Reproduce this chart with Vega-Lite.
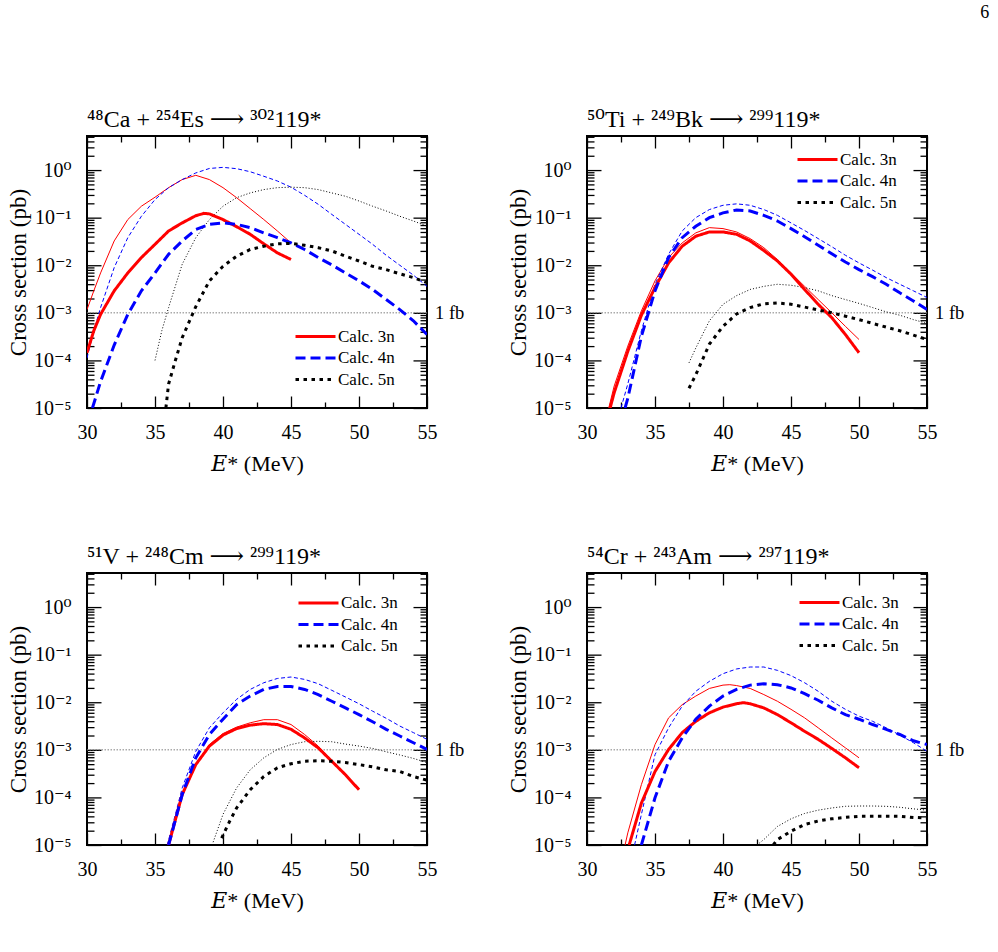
{
  "$schema": "https://vega.github.io/schema/vega-lite/v6.json",
  "padding": {"left": 6, "top": 4, "right": 6, "bottom": 4},
  "title": {"text": "6", "anchor": "end", "frame": "bounds", "fontSize": 18, "font": "Liberation Serif", "fontWeight": "normal", "color": "#000", "offset": 85, "dx": 24},
  "data": {"values": [
    {"r":"Ca","ch":"3n","set":"A","E":30,"xs":1.45e-4},{"r":"Ca","ch":"3n","set":"A","E":30.5,"xs":4.2e-4},{"r":"Ca","ch":"3n","set":"A","E":31,"xs":9.3e-4},{"r":"Ca","ch":"3n","set":"A","E":32,"xs":2.9e-3},{"r":"Ca","ch":"3n","set":"A","E":33,"xs":6.9e-3},{"r":"Ca","ch":"3n","set":"A","E":34,"xs":0.0145},{"r":"Ca","ch":"3n","set":"A","E":35,"xs":0.0275},{"r":"Ca","ch":"3n","set":"A","E":36,"xs":0.0525},{"r":"Ca","ch":"3n","set":"A","E":37,"xs":0.0776},{"r":"Ca","ch":"3n","set":"A","E":38,"xs":0.11},{"r":"Ca","ch":"3n","set":"A","E":38.6,"xs":0.123},{"r":"Ca","ch":"3n","set":"A","E":39,"xs":0.12},{"r":"Ca","ch":"3n","set":"A","E":40,"xs":0.0912},{"r":"Ca","ch":"3n","set":"A","E":41,"xs":0.0646},{"r":"Ca","ch":"3n","set":"A","E":42,"xs":0.0447},{"r":"Ca","ch":"3n","set":"A","E":43,"xs":0.0282},{"r":"Ca","ch":"3n","set":"A","E":44,"xs":0.0182},{"r":"Ca","ch":"3n","set":"A","E":45,"xs":0.0132},
    {"r":"Ca","ch":"3n","set":"B","E":30,"xs":1.17e-3},{"r":"Ca","ch":"3n","set":"B","E":30.5,"xs":2.9e-3},{"r":"Ca","ch":"3n","set":"B","E":31,"xs":6.9e-3},{"r":"Ca","ch":"3n","set":"B","E":32,"xs":0.0324},{"r":"Ca","ch":"3n","set":"B","E":33,"xs":0.0912},{"r":"Ca","ch":"3n","set":"B","E":34,"xs":0.174},{"r":"Ca","ch":"3n","set":"B","E":35,"xs":0.269},{"r":"Ca","ch":"3n","set":"B","E":36,"xs":0.427},{"r":"Ca","ch":"3n","set":"B","E":37,"xs":0.631},{"r":"Ca","ch":"3n","set":"B","E":38,"xs":0.776},{"r":"Ca","ch":"3n","set":"B","E":39,"xs":0.631},{"r":"Ca","ch":"3n","set":"B","E":40,"xs":0.427},{"r":"Ca","ch":"3n","set":"B","E":41,"xs":0.263},{"r":"Ca","ch":"3n","set":"B","E":42,"xs":0.155},{"r":"Ca","ch":"3n","set":"B","E":43,"xs":0.0912},{"r":"Ca","ch":"3n","set":"B","E":44,"xs":0.0525},{"r":"Ca","ch":"3n","set":"B","E":45,"xs":0.0295},
    {"r":"Ca","ch":"4n","set":"A","E":30.4,"xs":1e-5},{"r":"Ca","ch":"4n","set":"A","E":31,"xs":3.6e-5},{"r":"Ca","ch":"4n","set":"A","E":32,"xs":2.1e-4},{"r":"Ca","ch":"4n","set":"A","E":33,"xs":9.3e-4},{"r":"Ca","ch":"4n","set":"A","E":34,"xs":2.9e-3},{"r":"Ca","ch":"4n","set":"A","E":35,"xs":6.9e-3},{"r":"Ca","ch":"4n","set":"A","E":36,"xs":0.017},{"r":"Ca","ch":"4n","set":"A","E":37,"xs":0.0324},{"r":"Ca","ch":"4n","set":"A","E":38,"xs":0.0562},{"r":"Ca","ch":"4n","set":"A","E":39,"xs":0.0724},{"r":"Ca","ch":"4n","set":"A","E":40,"xs":0.0776},{"r":"Ca","ch":"4n","set":"A","E":41,"xs":0.0724},{"r":"Ca","ch":"4n","set":"A","E":42,"xs":0.0617},{"r":"Ca","ch":"4n","set":"A","E":43,"xs":0.0479},{"r":"Ca","ch":"4n","set":"A","E":44,"xs":0.038},{"r":"Ca","ch":"4n","set":"A","E":45,"xs":0.0295},{"r":"Ca","ch":"4n","set":"A","E":46,"xs":0.0214},{"r":"Ca","ch":"4n","set":"A","E":47,"xs":0.0145},{"r":"Ca","ch":"4n","set":"A","E":48,"xs":0.0102},{"r":"Ca","ch":"4n","set":"A","E":49,"xs":6.9e-3},{"r":"Ca","ch":"4n","set":"A","E":50,"xs":4.7e-3},{"r":"Ca","ch":"4n","set":"A","E":51,"xs":3.1e-3},{"r":"Ca","ch":"4n","set":"A","E":52,"xs":1.9e-3},{"r":"Ca","ch":"4n","set":"A","E":53,"xs":1.17e-3},{"r":"Ca","ch":"4n","set":"A","E":54,"xs":6.8e-4},{"r":"Ca","ch":"4n","set":"A","E":55,"xs":3.5e-4},
    {"r":"Ca","ch":"4n","set":"B","E":30,"xs":1.12e-4},{"r":"Ca","ch":"4n","set":"B","E":30.5,"xs":4.2e-4},{"r":"Ca","ch":"4n","set":"B","E":31,"xs":1.29e-3},{"r":"Ca","ch":"4n","set":"B","E":32,"xs":8.9e-3},{"r":"Ca","ch":"4n","set":"B","E":33,"xs":0.038},{"r":"Ca","ch":"4n","set":"B","E":34,"xs":0.107},{"r":"Ca","ch":"4n","set":"B","E":35,"xs":0.24},{"r":"Ca","ch":"4n","set":"B","E":36,"xs":0.427},{"r":"Ca","ch":"4n","set":"B","E":37,"xs":0.631},{"r":"Ca","ch":"4n","set":"B","E":38,"xs":0.871},{"r":"Ca","ch":"4n","set":"B","E":39,"xs":1.08},{"r":"Ca","ch":"4n","set":"B","E":40,"xs":1.14},{"r":"Ca","ch":"4n","set":"B","E":41,"xs":1.07},{"r":"Ca","ch":"4n","set":"B","E":42,"xs":0.923},{"r":"Ca","ch":"4n","set":"B","E":43,"xs":0.741},{"r":"Ca","ch":"4n","set":"B","E":44,"xs":0.589},{"r":"Ca","ch":"4n","set":"B","E":45,"xs":0.437},{"r":"Ca","ch":"4n","set":"B","E":46,"xs":0.295},{"r":"Ca","ch":"4n","set":"B","E":47,"xs":0.191},{"r":"Ca","ch":"4n","set":"B","E":48,"xs":0.117},{"r":"Ca","ch":"4n","set":"B","E":49,"xs":0.0724},{"r":"Ca","ch":"4n","set":"B","E":50,"xs":0.0447},{"r":"Ca","ch":"4n","set":"B","E":51,"xs":0.0275},{"r":"Ca","ch":"4n","set":"B","E":52,"xs":0.0162},{"r":"Ca","ch":"4n","set":"B","E":53,"xs":0.01},{"r":"Ca","ch":"4n","set":"B","E":54,"xs":6.2e-3},{"r":"Ca","ch":"4n","set":"B","E":55,"xs":3.6e-3},
    {"r":"Ca","ch":"5n","set":"A","E":35.8,"xs":1e-5},{"r":"Ca","ch":"5n","set":"A","E":36,"xs":3.2e-5},{"r":"Ca","ch":"5n","set":"A","E":36.5,"xs":1e-4},{"r":"Ca","ch":"5n","set":"A","E":37,"xs":3e-4},{"r":"Ca","ch":"5n","set":"A","E":38,"xs":1.35e-3},{"r":"Ca","ch":"5n","set":"A","E":39,"xs":4.7e-3},{"r":"Ca","ch":"5n","set":"A","E":40,"xs":9.5e-3},{"r":"Ca","ch":"5n","set":"A","E":41,"xs":0.0155},{"r":"Ca","ch":"5n","set":"A","E":42,"xs":0.0214},{"r":"Ca","ch":"5n","set":"A","E":43,"xs":0.0251},{"r":"Ca","ch":"5n","set":"A","E":44,"xs":0.0282},{"r":"Ca","ch":"5n","set":"A","E":45,"xs":0.0288},{"r":"Ca","ch":"5n","set":"A","E":46,"xs":0.0263},{"r":"Ca","ch":"5n","set":"A","E":47,"xs":0.0234},{"r":"Ca","ch":"5n","set":"A","E":48,"xs":0.02},{"r":"Ca","ch":"5n","set":"A","E":49,"xs":0.0155},{"r":"Ca","ch":"5n","set":"A","E":50,"xs":0.0123},{"r":"Ca","ch":"5n","set":"A","E":51,"xs":9.5e-3},{"r":"Ca","ch":"5n","set":"A","E":52,"xs":8.1e-3},{"r":"Ca","ch":"5n","set":"A","E":53,"xs":6.6e-3},{"r":"Ca","ch":"5n","set":"A","E":54,"xs":5.5e-3},{"r":"Ca","ch":"5n","set":"A","E":55,"xs":4.3e-3},
    {"r":"Ca","ch":"5n","set":"B","E":35,"xs":1e-4},{"r":"Ca","ch":"5n","set":"B","E":35.5,"xs":4.2e-4},{"r":"Ca","ch":"5n","set":"B","E":36,"xs":1.29e-3},{"r":"Ca","ch":"5n","set":"B","E":37,"xs":0.0105},{"r":"Ca","ch":"5n","set":"B","E":38,"xs":0.038},{"r":"Ca","ch":"5n","set":"B","E":39,"xs":0.0912},{"r":"Ca","ch":"5n","set":"B","E":40,"xs":0.174},{"r":"Ca","ch":"5n","set":"B","E":41,"xs":0.263},{"r":"Ca","ch":"5n","set":"B","E":42,"xs":0.331},{"r":"Ca","ch":"5n","set":"B","E":43,"xs":0.389},{"r":"Ca","ch":"5n","set":"B","E":44,"xs":0.427},{"r":"Ca","ch":"5n","set":"B","E":45,"xs":0.437},{"r":"Ca","ch":"5n","set":"B","E":46,"xs":0.427},{"r":"Ca","ch":"5n","set":"B","E":47,"xs":0.389},{"r":"Ca","ch":"5n","set":"B","E":48,"xs":0.331},{"r":"Ca","ch":"5n","set":"B","E":49,"xs":0.282},{"r":"Ca","ch":"5n","set":"B","E":50,"xs":0.224},{"r":"Ca","ch":"5n","set":"B","E":51,"xs":0.174},{"r":"Ca","ch":"5n","set":"B","E":52,"xs":0.138},{"r":"Ca","ch":"5n","set":"B","E":53,"xs":0.107},{"r":"Ca","ch":"5n","set":"B","E":54,"xs":0.0851},{"r":"Ca","ch":"5n","set":"B","E":55,"xs":0.0661},

    {"r":"Ti","ch":"3n","set":"A","E":31.7,"xs":1e-5},{"r":"Ti","ch":"3n","set":"A","E":32,"xs":2.1e-5},{"r":"Ti","ch":"3n","set":"A","E":33,"xs":1.55e-4},{"r":"Ti","ch":"3n","set":"A","E":34,"xs":8.9e-4},{"r":"Ti","ch":"3n","set":"A","E":35,"xs":3.4e-3},{"r":"Ti","ch":"3n","set":"A","E":36,"xs":0.0112},{"r":"Ti","ch":"3n","set":"A","E":37,"xs":0.0251},{"r":"Ti","ch":"3n","set":"A","E":38,"xs":0.0407},{"r":"Ti","ch":"3n","set":"A","E":39,"xs":0.0501},{"r":"Ti","ch":"3n","set":"A","E":40,"xs":0.0501},{"r":"Ti","ch":"3n","set":"A","E":41,"xs":0.0447},{"r":"Ti","ch":"3n","set":"A","E":42,"xs":0.0324},{"r":"Ti","ch":"3n","set":"A","E":43,"xs":0.0204},{"r":"Ti","ch":"3n","set":"A","E":44,"xs":0.0123},{"r":"Ti","ch":"3n","set":"A","E":45,"xs":6.5e-3},{"r":"Ti","ch":"3n","set":"A","E":46,"xs":3.1e-3},{"r":"Ti","ch":"3n","set":"A","E":47,"xs":1.51e-3},{"r":"Ti","ch":"3n","set":"A","E":48,"xs":7.9e-4},{"r":"Ti","ch":"3n","set":"A","E":49,"xs":3.5e-4},{"r":"Ti","ch":"3n","set":"A","E":50,"xs":1.45e-4},
    {"r":"Ti","ch":"3n","set":"B","E":31.6,"xs":1e-5},{"r":"Ti","ch":"3n","set":"B","E":32,"xs":2.9e-5},{"r":"Ti","ch":"3n","set":"B","E":33,"xs":2e-4},{"r":"Ti","ch":"3n","set":"B","E":34,"xs":1.1e-3},{"r":"Ti","ch":"3n","set":"B","E":35,"xs":4.7e-3},{"r":"Ti","ch":"3n","set":"B","E":36,"xs":0.0145},{"r":"Ti","ch":"3n","set":"B","E":37,"xs":0.0295},{"r":"Ti","ch":"3n","set":"B","E":38,"xs":0.0479},{"r":"Ti","ch":"3n","set":"B","E":39,"xs":0.0617},{"r":"Ti","ch":"3n","set":"B","E":40,"xs":0.0589},{"r":"Ti","ch":"3n","set":"B","E":41,"xs":0.0501},{"r":"Ti","ch":"3n","set":"B","E":42,"xs":0.0363},{"r":"Ti","ch":"3n","set":"B","E":43,"xs":0.0234},{"r":"Ti","ch":"3n","set":"B","E":44,"xs":0.0132},{"r":"Ti","ch":"3n","set":"B","E":45,"xs":6.9e-3},{"r":"Ti","ch":"3n","set":"B","E":46,"xs":3.6e-3},{"r":"Ti","ch":"3n","set":"B","E":47,"xs":1.9e-3},{"r":"Ti","ch":"3n","set":"B","E":48,"xs":1e-3},{"r":"Ti","ch":"3n","set":"B","E":49,"xs":5.2e-4},{"r":"Ti","ch":"3n","set":"B","E":50,"xs":2.75e-4},
    {"r":"Ti","ch":"4n","set":"A","E":32.8,"xs":1e-5},{"r":"Ti","ch":"4n","set":"A","E":33,"xs":1.6e-5},{"r":"Ti","ch":"4n","set":"A","E":34,"xs":3.2e-4},{"r":"Ti","ch":"4n","set":"A","E":35,"xs":2.9e-3},{"r":"Ti","ch":"4n","set":"A","E":36,"xs":0.0145},{"r":"Ti","ch":"4n","set":"A","E":37,"xs":0.038},{"r":"Ti","ch":"4n","set":"A","E":38,"xs":0.066},{"r":"Ti","ch":"4n","set":"A","E":39,"xs":0.1},{"r":"Ti","ch":"4n","set":"A","E":40,"xs":0.126},{"r":"Ti","ch":"4n","set":"A","E":41,"xs":0.145},{"r":"Ti","ch":"4n","set":"A","E":42,"xs":0.138},{"r":"Ti","ch":"4n","set":"A","E":43,"xs":0.112},{"r":"Ti","ch":"4n","set":"A","E":44,"xs":0.0851},{"r":"Ti","ch":"4n","set":"A","E":45,"xs":0.0589},{"r":"Ti","ch":"4n","set":"A","E":46,"xs":0.0398},{"r":"Ti","ch":"4n","set":"A","E":47,"xs":0.0263},{"r":"Ti","ch":"4n","set":"A","E":48,"xs":0.0174},{"r":"Ti","ch":"4n","set":"A","E":49,"xs":0.0117},{"r":"Ti","ch":"4n","set":"A","E":50,"xs":8.1e-3},{"r":"Ti","ch":"4n","set":"A","E":51,"xs":5.75e-3},{"r":"Ti","ch":"4n","set":"A","E":52,"xs":3.98e-3},{"r":"Ti","ch":"4n","set":"A","E":53,"xs":2.63e-3},{"r":"Ti","ch":"4n","set":"A","E":54,"xs":1.78e-3},{"r":"Ti","ch":"4n","set":"A","E":55,"xs":1.17e-3},
    {"r":"Ti","ch":"4n","set":"B","E":32.5,"xs":1e-5},{"r":"Ti","ch":"4n","set":"B","E":33,"xs":3.2e-5},{"r":"Ti","ch":"4n","set":"B","E":34,"xs":4.2e-4},{"r":"Ti","ch":"4n","set":"B","E":35,"xs":3.98e-3},{"r":"Ti","ch":"4n","set":"B","E":36,"xs":0.017},{"r":"Ti","ch":"4n","set":"B","E":37,"xs":0.0525},{"r":"Ti","ch":"4n","set":"B","E":38,"xs":0.1},{"r":"Ti","ch":"4n","set":"B","E":39,"xs":0.148},{"r":"Ti","ch":"4n","set":"B","E":40,"xs":0.182},{"r":"Ti","ch":"4n","set":"B","E":41,"xs":0.195},{"r":"Ti","ch":"4n","set":"B","E":42,"xs":0.182},{"r":"Ti","ch":"4n","set":"B","E":43,"xs":0.148},{"r":"Ti","ch":"4n","set":"B","E":44,"xs":0.112},{"r":"Ti","ch":"4n","set":"B","E":45,"xs":0.0776},{"r":"Ti","ch":"4n","set":"B","E":46,"xs":0.0537},{"r":"Ti","ch":"4n","set":"B","E":47,"xs":0.0363},{"r":"Ti","ch":"4n","set":"B","E":48,"xs":0.0245},{"r":"Ti","ch":"4n","set":"B","E":49,"xs":0.0162},{"r":"Ti","ch":"4n","set":"B","E":50,"xs":0.0112},{"r":"Ti","ch":"4n","set":"B","E":51,"xs":7.9e-3},{"r":"Ti","ch":"4n","set":"B","E":52,"xs":5.5e-3},{"r":"Ti","ch":"4n","set":"B","E":53,"xs":3.98e-3},{"r":"Ti","ch":"4n","set":"B","E":54,"xs":2.9e-3},{"r":"Ti","ch":"4n","set":"B","E":55,"xs":2.1e-3},
    {"r":"Ti","ch":"5n","set":"A","E":37.5,"xs":2.6e-5},{"r":"Ti","ch":"5n","set":"A","E":38,"xs":5e-5},{"r":"Ti","ch":"5n","set":"A","E":39,"xs":2.2e-4},{"r":"Ti","ch":"5n","set":"A","E":40,"xs":5.2e-4},{"r":"Ti","ch":"5n","set":"A","E":41,"xs":9.5e-4},{"r":"Ti","ch":"5n","set":"A","E":42,"xs":1.29e-3},{"r":"Ti","ch":"5n","set":"A","E":43,"xs":1.55e-3},{"r":"Ti","ch":"5n","set":"A","E":44,"xs":1.62e-3},{"r":"Ti","ch":"5n","set":"A","E":45,"xs":1.51e-3},{"r":"Ti","ch":"5n","set":"A","E":46,"xs":1.32e-3},{"r":"Ti","ch":"5n","set":"A","E":47,"xs":1.15e-3},{"r":"Ti","ch":"5n","set":"A","E":48,"xs":1e-3},{"r":"Ti","ch":"5n","set":"A","E":49,"xs":8.5e-4},{"r":"Ti","ch":"5n","set":"A","E":50,"xs":7.2e-4},{"r":"Ti","ch":"5n","set":"A","E":51,"xs":6e-4},{"r":"Ti","ch":"5n","set":"A","E":52,"xs":5e-4},{"r":"Ti","ch":"5n","set":"A","E":53,"xs":4.2e-4},{"r":"Ti","ch":"5n","set":"A","E":54,"xs":3.4e-4},{"r":"Ti","ch":"5n","set":"A","E":55,"xs":2.75e-4},
    {"r":"Ti","ch":"5n","set":"B","E":37.5,"xs":8.9e-5},{"r":"Ti","ch":"5n","set":"B","E":38,"xs":1.82e-4},{"r":"Ti","ch":"5n","set":"B","E":39,"xs":6.8e-4},{"r":"Ti","ch":"5n","set":"B","E":40,"xs":1.51e-3},{"r":"Ti","ch":"5n","set":"B","E":41,"xs":2.3e-3},{"r":"Ti","ch":"5n","set":"B","E":42,"xs":3.1e-3},{"r":"Ti","ch":"5n","set":"B","E":43,"xs":3.6e-3},{"r":"Ti","ch":"5n","set":"B","E":44,"xs":3.98e-3},{"r":"Ti","ch":"5n","set":"B","E":45,"xs":3.8e-3},{"r":"Ti","ch":"5n","set":"B","E":46,"xs":3.4e-3},{"r":"Ti","ch":"5n","set":"B","E":47,"xs":2.9e-3},{"r":"Ti","ch":"5n","set":"B","E":48,"xs":2.3e-3},{"r":"Ti","ch":"5n","set":"B","E":49,"xs":1.9e-3},{"r":"Ti","ch":"5n","set":"B","E":50,"xs":1.58e-3},{"r":"Ti","ch":"5n","set":"B","E":51,"xs":1.29e-3},{"r":"Ti","ch":"5n","set":"B","E":52,"xs":1.05e-3},{"r":"Ti","ch":"5n","set":"B","E":53,"xs":8.9e-4},{"r":"Ti","ch":"5n","set":"B","E":54,"xs":7.2e-4},{"r":"Ti","ch":"5n","set":"B","E":55,"xs":6e-4},

    {"r":"V","ch":"3n","set":"A","E":36,"xs":1e-5},{"r":"V","ch":"3n","set":"A","E":37,"xs":1.15e-4},{"r":"V","ch":"3n","set":"A","E":38,"xs":4.9e-4},{"r":"V","ch":"3n","set":"A","E":39,"xs":1.2e-3},{"r":"V","ch":"3n","set":"A","E":40,"xs":2.04e-3},{"r":"V","ch":"3n","set":"A","E":41,"xs":2.8e-3},{"r":"V","ch":"3n","set":"A","E":42,"xs":3.3e-3},{"r":"V","ch":"3n","set":"A","E":43,"xs":3.55e-3},{"r":"V","ch":"3n","set":"A","E":44,"xs":3.4e-3},{"r":"V","ch":"3n","set":"A","E":45,"xs":2.7e-3},{"r":"V","ch":"3n","set":"A","E":46,"xs":1.78e-3},{"r":"V","ch":"3n","set":"A","E":47,"xs":1.1e-3},{"r":"V","ch":"3n","set":"A","E":48,"xs":5.75e-4},{"r":"V","ch":"3n","set":"A","E":49,"xs":3e-4},{"r":"V","ch":"3n","set":"A","E":50,"xs":1.45e-4},
    {"r":"V","ch":"3n","set":"B","E":36,"xs":1e-5},{"r":"V","ch":"3n","set":"B","E":37,"xs":1.05e-4},{"r":"V","ch":"3n","set":"B","E":38,"xs":5e-4},{"r":"V","ch":"3n","set":"B","E":39,"xs":1.29e-3},{"r":"V","ch":"3n","set":"B","E":40,"xs":2.2e-3},{"r":"V","ch":"3n","set":"B","E":41,"xs":3e-3},{"r":"V","ch":"3n","set":"B","E":42,"xs":3.7e-3},{"r":"V","ch":"3n","set":"B","E":43,"xs":4.3e-3},{"r":"V","ch":"3n","set":"B","E":44,"xs":4.3e-3},{"r":"V","ch":"3n","set":"B","E":45,"xs":3.4e-3},{"r":"V","ch":"3n","set":"B","E":46,"xs":2.1e-3},{"r":"V","ch":"3n","set":"B","E":47,"xs":1.2e-3},{"r":"V","ch":"3n","set":"B","E":48,"xs":5.9e-4},{"r":"V","ch":"3n","set":"B","E":49,"xs":3e-4},{"r":"V","ch":"3n","set":"B","E":50,"xs":1.55e-4},
    {"r":"V","ch":"4n","set":"A","E":36,"xs":1e-5},{"r":"V","ch":"4n","set":"A","E":37,"xs":1.15e-4},{"r":"V","ch":"4n","set":"A","E":38,"xs":6.8e-4},{"r":"V","ch":"4n","set":"A","E":39,"xs":2.1e-3},{"r":"V","ch":"4n","set":"A","E":40,"xs":4.4e-3},{"r":"V","ch":"4n","set":"A","E":41,"xs":8.9e-3},{"r":"V","ch":"4n","set":"A","E":42,"xs":0.0135},{"r":"V","ch":"4n","set":"A","E":43,"xs":0.0186},{"r":"V","ch":"4n","set":"A","E":44,"xs":0.0214},{"r":"V","ch":"4n","set":"A","E":45,"xs":0.0214},{"r":"V","ch":"4n","set":"A","E":46,"xs":0.0186},{"r":"V","ch":"4n","set":"A","E":47,"xs":0.0145},{"r":"V","ch":"4n","set":"A","E":48,"xs":0.0105},{"r":"V","ch":"4n","set":"A","E":49,"xs":7.6e-3},{"r":"V","ch":"4n","set":"A","E":50,"xs":5.5e-3},{"r":"V","ch":"4n","set":"A","E":51,"xs":3.9e-3},{"r":"V","ch":"4n","set":"A","E":52,"xs":2.7e-3},{"r":"V","ch":"4n","set":"A","E":53,"xs":1.95e-3},{"r":"V","ch":"4n","set":"A","E":54,"xs":1.41e-3},{"r":"V","ch":"4n","set":"A","E":55,"xs":1.02e-3},
    {"r":"V","ch":"4n","set":"B","E":35.9,"xs":1e-5},{"r":"V","ch":"4n","set":"B","E":36.5,"xs":4.4e-5},{"r":"V","ch":"4n","set":"B","E":37,"xs":1.58e-4},{"r":"V","ch":"4n","set":"B","E":38,"xs":9.3e-4},{"r":"V","ch":"4n","set":"B","E":39,"xs":2.9e-3},{"r":"V","ch":"4n","set":"B","E":40,"xs":6e-3},{"r":"V","ch":"4n","set":"B","E":41,"xs":0.0115},{"r":"V","ch":"4n","set":"B","E":42,"xs":0.0186},{"r":"V","ch":"4n","set":"B","E":43,"xs":0.0257},{"r":"V","ch":"4n","set":"B","E":44,"xs":0.0316},{"r":"V","ch":"4n","set":"B","E":45,"xs":0.0339},{"r":"V","ch":"4n","set":"B","E":46,"xs":0.0302},{"r":"V","ch":"4n","set":"B","E":47,"xs":0.0245},{"r":"V","ch":"4n","set":"B","E":48,"xs":0.0178},{"r":"V","ch":"4n","set":"B","E":49,"xs":0.0129},{"r":"V","ch":"4n","set":"B","E":50,"xs":9.3e-3},{"r":"V","ch":"4n","set":"B","E":51,"xs":6.5e-3},{"r":"V","ch":"4n","set":"B","E":52,"xs":4.6e-3},{"r":"V","ch":"4n","set":"B","E":53,"xs":3.16e-3},{"r":"V","ch":"4n","set":"B","E":54,"xs":2.3e-3},{"r":"V","ch":"4n","set":"B","E":55,"xs":1.66e-3},
    {"r":"V","ch":"5n","set":"A","E":39.9,"xs":1.4e-5},{"r":"V","ch":"5n","set":"A","E":40.5,"xs":3.2e-5},{"r":"V","ch":"5n","set":"A","E":41,"xs":6e-5},{"r":"V","ch":"5n","set":"A","E":42,"xs":1.45e-4},{"r":"V","ch":"5n","set":"A","E":43,"xs":2.75e-4},{"r":"V","ch":"5n","set":"A","E":44,"xs":4.2e-4},{"r":"V","ch":"5n","set":"A","E":45,"xs":5.1e-4},{"r":"V","ch":"5n","set":"A","E":46,"xs":5.75e-4},{"r":"V","ch":"5n","set":"A","E":47,"xs":5.9e-4},{"r":"V","ch":"5n","set":"A","E":48,"xs":5.75e-4},{"r":"V","ch":"5n","set":"A","E":49,"xs":5.4e-4},{"r":"V","ch":"5n","set":"A","E":50,"xs":4.9e-4},{"r":"V","ch":"5n","set":"A","E":51,"xs":4.4e-4},{"r":"V","ch":"5n","set":"A","E":52,"xs":3.8e-4},{"r":"V","ch":"5n","set":"A","E":53,"xs":3.5e-4},{"r":"V","ch":"5n","set":"A","E":54,"xs":2.75e-4},{"r":"V","ch":"5n","set":"A","E":55,"xs":2.3e-4},
    {"r":"V","ch":"5n","set":"B","E":39.2,"xs":1e-5},{"r":"V","ch":"5n","set":"B","E":40,"xs":4.4e-5},{"r":"V","ch":"5n","set":"B","E":41,"xs":1.58e-4},{"r":"V","ch":"5n","set":"B","E":42,"xs":3.8e-4},{"r":"V","ch":"5n","set":"B","E":43,"xs":6.8e-4},{"r":"V","ch":"5n","set":"B","E":44,"xs":1.02e-3},{"r":"V","ch":"5n","set":"B","E":45,"xs":1.29e-3},{"r":"V","ch":"5n","set":"B","E":46,"xs":1.48e-3},{"r":"V","ch":"5n","set":"B","E":47,"xs":1.51e-3},{"r":"V","ch":"5n","set":"B","E":48,"xs":1.48e-3},{"r":"V","ch":"5n","set":"B","E":49,"xs":1.32e-3},{"r":"V","ch":"5n","set":"B","E":50,"xs":1.2e-3},{"r":"V","ch":"5n","set":"B","E":51,"xs":1.07e-3},{"r":"V","ch":"5n","set":"B","E":52,"xs":9.1e-4},{"r":"V","ch":"5n","set":"B","E":53,"xs":7.8e-4},{"r":"V","ch":"5n","set":"B","E":54,"xs":6.6e-4},{"r":"V","ch":"5n","set":"B","E":55,"xs":5.4e-4},

    {"r":"Cr","ch":"3n","set":"A","E":33.1,"xs":1e-5},{"r":"Cr","ch":"3n","set":"A","E":34,"xs":7.6e-5},{"r":"Cr","ch":"3n","set":"A","E":35,"xs":3.5e-4},{"r":"Cr","ch":"3n","set":"A","E":36,"xs":1.02e-3},{"r":"Cr","ch":"3n","set":"A","E":37,"xs":2.3e-3},{"r":"Cr","ch":"3n","set":"A","E":38,"xs":3.98e-3},{"r":"Cr","ch":"3n","set":"A","E":39,"xs":6e-3},{"r":"Cr","ch":"3n","set":"A","E":40,"xs":7.9e-3},{"r":"Cr","ch":"3n","set":"A","E":41,"xs":9.3e-3},{"r":"Cr","ch":"3n","set":"A","E":41.5,"xs":9.8e-3},{"r":"Cr","ch":"3n","set":"A","E":42,"xs":9.3e-3},{"r":"Cr","ch":"3n","set":"A","E":43,"xs":7.6e-3},{"r":"Cr","ch":"3n","set":"A","E":44,"xs":5.5e-3},{"r":"Cr","ch":"3n","set":"A","E":45,"xs":3.7e-3},{"r":"Cr","ch":"3n","set":"A","E":46,"xs":2.45e-3},{"r":"Cr","ch":"3n","set":"A","E":47,"xs":1.66e-3},{"r":"Cr","ch":"3n","set":"A","E":48,"xs":1.07e-3},{"r":"Cr","ch":"3n","set":"A","E":49,"xs":6.8e-4},{"r":"Cr","ch":"3n","set":"A","E":50,"xs":4.2e-4},
    {"r":"Cr","ch":"3n","set":"B","E":32.8,"xs":1e-5},{"r":"Cr","ch":"3n","set":"B","E":33,"xs":1.8e-5},{"r":"Cr","ch":"3n","set":"B","E":34,"xs":1.86e-4},{"r":"Cr","ch":"3n","set":"B","E":35,"xs":1.29e-3},{"r":"Cr","ch":"3n","set":"B","E":36,"xs":4.7e-3},{"r":"Cr","ch":"3n","set":"B","E":37,"xs":8.9e-3},{"r":"Cr","ch":"3n","set":"B","E":38,"xs":0.0135},{"r":"Cr","ch":"3n","set":"B","E":39,"xs":0.0195},{"r":"Cr","ch":"3n","set":"B","E":40,"xs":0.0229},{"r":"Cr","ch":"3n","set":"B","E":40.5,"xs":0.0234},{"r":"Cr","ch":"3n","set":"B","E":41,"xs":0.0224},{"r":"Cr","ch":"3n","set":"B","E":42,"xs":0.0195},{"r":"Cr","ch":"3n","set":"B","E":43,"xs":0.0145},{"r":"Cr","ch":"3n","set":"B","E":44,"xs":0.0105},{"r":"Cr","ch":"3n","set":"B","E":45,"xs":7.1e-3},{"r":"Cr","ch":"3n","set":"B","E":46,"xs":4.7e-3},{"r":"Cr","ch":"3n","set":"B","E":47,"xs":2.9e-3},{"r":"Cr","ch":"3n","set":"B","E":48,"xs":1.78e-3},{"r":"Cr","ch":"3n","set":"B","E":49,"xs":1.1e-3},{"r":"Cr","ch":"3n","set":"B","E":50,"xs":6.8e-4},
    {"r":"Cr","ch":"4n","set":"A","E":34,"xs":1e-5},{"r":"Cr","ch":"4n","set":"A","E":35,"xs":9.8e-5},{"r":"Cr","ch":"4n","set":"A","E":36,"xs":5.75e-4},{"r":"Cr","ch":"4n","set":"A","E":37,"xs":1.78e-3},{"r":"Cr","ch":"4n","set":"A","E":38,"xs":4.4e-3},{"r":"Cr","ch":"4n","set":"A","E":39,"xs":8.3e-3},{"r":"Cr","ch":"4n","set":"A","E":40,"xs":0.0135},{"r":"Cr","ch":"4n","set":"A","E":41,"xs":0.0186},{"r":"Cr","ch":"4n","set":"A","E":42,"xs":0.0229},{"r":"Cr","ch":"4n","set":"A","E":43,"xs":0.0245},{"r":"Cr","ch":"4n","set":"A","E":44,"xs":0.0234},{"r":"Cr","ch":"4n","set":"A","E":45,"xs":0.02},{"r":"Cr","ch":"4n","set":"A","E":46,"xs":0.0151},{"r":"Cr","ch":"4n","set":"A","E":47,"xs":0.011},{"r":"Cr","ch":"4n","set":"A","E":48,"xs":7.6e-3},{"r":"Cr","ch":"4n","set":"A","E":49,"xs":5.5e-3},{"r":"Cr","ch":"4n","set":"A","E":50,"xs":4.4e-3},{"r":"Cr","ch":"4n","set":"A","E":51,"xs":3.4e-3},{"r":"Cr","ch":"4n","set":"A","E":52,"xs":2.7e-3},{"r":"Cr","ch":"4n","set":"A","E":53,"xs":2.1e-3},{"r":"Cr","ch":"4n","set":"A","E":54,"xs":1.55e-3},{"r":"Cr","ch":"4n","set":"A","E":55,"xs":1.29e-3},
    {"r":"Cr","ch":"4n","set":"B","E":33.5,"xs":1e-5},{"r":"Cr","ch":"4n","set":"B","E":34,"xs":4.4e-5},{"r":"Cr","ch":"4n","set":"B","E":35,"xs":7.9e-4},{"r":"Cr","ch":"4n","set":"B","E":36,"xs":2.9e-3},{"r":"Cr","ch":"4n","set":"B","E":37,"xs":8.3e-3},{"r":"Cr","ch":"4n","set":"B","E":38,"xs":0.017},{"r":"Cr","ch":"4n","set":"B","E":39,"xs":0.0275},{"r":"Cr","ch":"4n","set":"B","E":40,"xs":0.0398},{"r":"Cr","ch":"4n","set":"B","E":41,"xs":0.0501},{"r":"Cr","ch":"4n","set":"B","E":42,"xs":0.055},{"r":"Cr","ch":"4n","set":"B","E":43,"xs":0.055},{"r":"Cr","ch":"4n","set":"B","E":44,"xs":0.0468},{"r":"Cr","ch":"4n","set":"B","E":45,"xs":0.0363},{"r":"Cr","ch":"4n","set":"B","E":46,"xs":0.0257},{"r":"Cr","ch":"4n","set":"B","E":47,"xs":0.017},{"r":"Cr","ch":"4n","set":"B","E":48,"xs":0.0105},{"r":"Cr","ch":"4n","set":"B","E":49,"xs":7.1e-3},{"r":"Cr","ch":"4n","set":"B","E":50,"xs":5.1e-3},{"r":"Cr","ch":"4n","set":"B","E":51,"xs":3.98e-3},{"r":"Cr","ch":"4n","set":"B","E":52,"xs":2.9e-3},{"r":"Cr","ch":"4n","set":"B","E":53,"xs":2.04e-3},{"r":"Cr","ch":"4n","set":"B","E":54,"xs":1.41e-3},{"r":"Cr","ch":"4n","set":"B","E":55,"xs":9.3e-4},
    {"r":"Cr","ch":"5n","set":"A","E":43.7,"xs":1e-5},{"r":"Cr","ch":"5n","set":"A","E":44,"xs":1.3e-5},{"r":"Cr","ch":"5n","set":"A","E":45,"xs":1.95e-5},{"r":"Cr","ch":"5n","set":"A","E":46,"xs":2.7e-5},{"r":"Cr","ch":"5n","set":"A","E":47,"xs":3.2e-5},{"r":"Cr","ch":"5n","set":"A","E":48,"xs":3.55e-5},{"r":"Cr","ch":"5n","set":"A","E":49,"xs":3.8e-5},{"r":"Cr","ch":"5n","set":"A","E":50,"xs":4e-5},{"r":"Cr","ch":"5n","set":"A","E":51,"xs":4e-5},{"r":"Cr","ch":"5n","set":"A","E":52,"xs":4e-5},{"r":"Cr","ch":"5n","set":"A","E":53,"xs":4e-5},{"r":"Cr","ch":"5n","set":"A","E":54,"xs":3.8e-5},{"r":"Cr","ch":"5n","set":"A","E":55,"xs":3.7e-5},
    {"r":"Cr","ch":"5n","set":"B","E":42.5,"xs":1e-5},{"r":"Cr","ch":"5n","set":"B","E":43,"xs":1.3e-5},{"r":"Cr","ch":"5n","set":"B","E":44,"xs":2.45e-5},{"r":"Cr","ch":"5n","set":"B","E":45,"xs":3.55e-5},{"r":"Cr","ch":"5n","set":"B","E":46,"xs":4.6e-5},{"r":"Cr","ch":"5n","set":"B","E":47,"xs":5.4e-5},{"r":"Cr","ch":"5n","set":"B","E":48,"xs":6e-5},{"r":"Cr","ch":"5n","set":"B","E":49,"xs":6.5e-5},{"r":"Cr","ch":"5n","set":"B","E":50,"xs":6.6e-5},{"r":"Cr","ch":"5n","set":"B","E":51,"xs":6.6e-5},{"r":"Cr","ch":"5n","set":"B","E":52,"xs":6.5e-5},{"r":"Cr","ch":"5n","set":"B","E":53,"xs":6.2e-5},{"r":"Cr","ch":"5n","set":"B","E":54,"xs":5.75e-5},{"r":"Cr","ch":"5n","set":"B","E":55,"xs":5.4e-5}
  ]},
  "columns": 2,
  "spacing": {"row": 165, "column": 160},
  "bounds": "flush",
  "concat": [
    {
      "width": 340, "height": 272,
      "title": {"text": "⁴⁸Ca + ²⁵⁴Es ⟶ ³⁰²119*"},
      "layer": [
        {"data": {"values": [{"xs": 0.001, "label": "1 fb"}]}, "mark": {"type": "rule", "color": "#808080", "strokeWidth": 1, "strokeDash": [1.5, 1.5]},
         "encoding": {"y": {"field": "xs", "type": "quantitative", "scale": {"type": "log", "domain": [1e-5, 5.2], "nice": false}, "axis": null}}},
        {"transform": [{"filter": "datum.r === 'Ca' && datum.set === 'B' && datum.ch === '3n'"}], "mark": {"type": "line", "color": "#ff0000", "strokeWidth": 1, "clip": true},
         "encoding": {"x": {"field": "E", "type": "quantitative", "scale": {"domain": [30, 55], "nice": false}, "axis": {"orient": "bottom", "values": [32.5, 37.5, 42.5, 47.5, 52.5], "offset": -6, "tickSize": 6, "labels": false, "title": null}},
                      "y": {"field": "xs", "type": "quantitative", "scale": {"type": "log", "domain": [1e-5, 5.2], "nice": false}, "axis": {"orient": "left", "values": [2e-5,3e-5,4e-5,5e-5,6e-5,7e-5,8e-5,9e-5,2e-4,3e-4,4e-4,5e-4,6e-4,7e-4,8e-4,9e-4,0.002,0.003,0.004,0.005,0.006,0.007,0.008,0.009,0.02,0.03,0.04,0.05,0.06,0.07,0.08,0.09,0.2,0.3,0.4,0.5,0.6,0.7,0.8,0.9,2,3,4,5], "offset": -7, "tickSize": 7, "labels": false, "title": null}}}},
        {"transform": [{"filter": "datum.r === 'Ca' && datum.set === 'B' && datum.ch === '4n'"}], "mark": {"type": "line", "color": "#0000ff", "strokeWidth": 1, "strokeDash": [4, 2.5], "clip": true},
         "encoding": {"x": {"field": "E", "type": "quantitative", "scale": {"domain": [30, 55], "nice": false}, "axis": {"orient": "top", "values": [32.5, 37.5, 42.5, 47.5, 52.5], "offset": -6, "tickSize": 6, "labels": false, "title": null}},
                      "y": {"field": "xs", "type": "quantitative", "scale": {"type": "log", "domain": [1e-5, 5.2], "nice": false}, "axis": {"orient": "right", "values": [2e-5,3e-5,4e-5,5e-5,6e-5,7e-5,8e-5,9e-5,2e-4,3e-4,4e-4,5e-4,6e-4,7e-4,8e-4,9e-4,0.002,0.003,0.004,0.005,0.006,0.007,0.008,0.009,0.02,0.03,0.04,0.05,0.06,0.07,0.08,0.09,0.2,0.3,0.4,0.5,0.6,0.7,0.8,0.9,2,3,4,5], "offset": -7, "tickSize": 7, "labels": false, "title": null}}}},
        {"transform": [{"filter": "datum.r === 'Ca' && datum.set === 'B' && datum.ch === '5n'"}], "mark": {"type": "line", "color": "#000000", "strokeWidth": 1, "strokeDash": [1, 2], "clip": true},
         "encoding": {"x": {"field": "E", "type": "quantitative", "scale": {"domain": [30, 55], "nice": false}, "axis": {"orient": "top", "values": [30, 35, 40, 45, 50, 55], "offset": -12, "tickSize": 12, "labels": false, "title": null}},
                      "y": {"field": "xs", "type": "quantitative", "scale": {"type": "log", "domain": [1e-5, 5.2], "nice": false}, "axis": {"orient": "right", "values": [1e-5, 1e-4, 0.001, 0.01, 0.1, 1], "offset": -14, "tickSize": 14, "labels": false, "title": null}}}},
        {"transform": [{"filter": "datum.r === 'Ca' && datum.set === 'A'"}], "mark": {"type": "line", "strokeWidth": 3, "clip": true},
         "encoding": {"x": {"field": "E", "type": "quantitative", "scale": {"domain": [30, 55], "nice": false}, "axis": {"orient": "bottom", "values": [30, 35, 40, 45, 50, 55], "offset": -12, "tickSize": 12, "labelPadding": 14, "title": "𝐸* (MeV)", "titlePadding": 11}},
                      "y": {"field": "xs", "type": "quantitative", "scale": {"type": "log", "domain": [1e-5, 5.2], "nice": false}, "axis": {"orient": "left", "values": [1e-5, 1e-4, 0.001, 0.01, 0.1, 1], "offset": -14, "tickSize": 14, "labelPadding": 16, "labelExpr": "'10' + ['⁰','⁻¹','⁻²','⁻³','⁻⁴','⁻⁵'][round(-log(datum.value)/LN10)]", "title": "Cross section (pb)", "titleFontSize": 23, "titlePadding": 3}},
                      "color": {"field": "ch", "type": "nominal", "scale": {"domain": ["3n", "4n", "5n"], "range": ["#ff0000", "#0000ff", "#000000"]}, "legend": {"orient": "none", "legendX": 220, "legendY": 192, "labelExpr": "'Calc. ' + datum.label"}},
                      "strokeDash": {"field": "ch", "type": "nominal", "scale": {"domain": ["3n", "4n", "5n"], "range": [[1, 0], [10, 5], [3.5, 4.5]]}, "legend": {"orient": "none", "legendX": 220, "legendY": 192, "labelExpr": "'Calc. ' + datum.label"}}}},
        {"data": {"values": [{"xs": 0.001, "label": "1 fb"}]}, "mark": {"type": "text", "align": "left", "baseline": "middle", "dx": 8, "fontSize": 18.5, "color": "#000"},
         "encoding": {"x": {"datum": 55, "type": "quantitative", "axis": null}, "y": {"field": "xs", "type": "quantitative", "axis": null}, "text": {"field": "label"}}}
      ],
      "resolve": {"axis": {"x": "independent", "y": "independent"}}
    },
    {
      "width": 340, "height": 272,
      "title": {"text": "⁵⁰Ti + ²⁴⁹Bk ⟶ ²⁹⁹119*"},
      "layer": [
        {"data": {"values": [{"xs": 0.001, "label": "1 fb"}]}, "mark": {"type": "rule", "color": "#808080", "strokeWidth": 1, "strokeDash": [1.5, 1.5]},
         "encoding": {"y": {"field": "xs", "type": "quantitative", "scale": {"type": "log", "domain": [1e-5, 5.2], "nice": false}, "axis": null}}},
        {"transform": [{"filter": "datum.r === 'Ti' && datum.set === 'B' && datum.ch === '3n'"}], "mark": {"type": "line", "color": "#ff0000", "strokeWidth": 1, "clip": true},
         "encoding": {"x": {"field": "E", "type": "quantitative", "scale": {"domain": [30, 55], "nice": false}, "axis": {"orient": "bottom", "values": [32.5, 37.5, 42.5, 47.5, 52.5], "offset": -6, "tickSize": 6, "labels": false, "title": null}},
                      "y": {"field": "xs", "type": "quantitative", "scale": {"type": "log", "domain": [1e-5, 5.2], "nice": false}, "axis": {"orient": "left", "values": [2e-5,3e-5,4e-5,5e-5,6e-5,7e-5,8e-5,9e-5,2e-4,3e-4,4e-4,5e-4,6e-4,7e-4,8e-4,9e-4,0.002,0.003,0.004,0.005,0.006,0.007,0.008,0.009,0.02,0.03,0.04,0.05,0.06,0.07,0.08,0.09,0.2,0.3,0.4,0.5,0.6,0.7,0.8,0.9,2,3,4,5], "offset": -7, "tickSize": 7, "labels": false, "title": null}}}},
        {"transform": [{"filter": "datum.r === 'Ti' && datum.set === 'B' && datum.ch === '4n'"}], "mark": {"type": "line", "color": "#0000ff", "strokeWidth": 1, "strokeDash": [4, 2.5], "clip": true},
         "encoding": {"x": {"field": "E", "type": "quantitative", "scale": {"domain": [30, 55], "nice": false}, "axis": {"orient": "top", "values": [32.5, 37.5, 42.5, 47.5, 52.5], "offset": -6, "tickSize": 6, "labels": false, "title": null}},
                      "y": {"field": "xs", "type": "quantitative", "scale": {"type": "log", "domain": [1e-5, 5.2], "nice": false}, "axis": {"orient": "right", "values": [2e-5,3e-5,4e-5,5e-5,6e-5,7e-5,8e-5,9e-5,2e-4,3e-4,4e-4,5e-4,6e-4,7e-4,8e-4,9e-4,0.002,0.003,0.004,0.005,0.006,0.007,0.008,0.009,0.02,0.03,0.04,0.05,0.06,0.07,0.08,0.09,0.2,0.3,0.4,0.5,0.6,0.7,0.8,0.9,2,3,4,5], "offset": -7, "tickSize": 7, "labels": false, "title": null}}}},
        {"transform": [{"filter": "datum.r === 'Ti' && datum.set === 'B' && datum.ch === '5n'"}], "mark": {"type": "line", "color": "#000000", "strokeWidth": 1, "strokeDash": [1, 2], "clip": true},
         "encoding": {"x": {"field": "E", "type": "quantitative", "scale": {"domain": [30, 55], "nice": false}, "axis": {"orient": "top", "values": [30, 35, 40, 45, 50, 55], "offset": -12, "tickSize": 12, "labels": false, "title": null}},
                      "y": {"field": "xs", "type": "quantitative", "scale": {"type": "log", "domain": [1e-5, 5.2], "nice": false}, "axis": {"orient": "right", "values": [1e-5, 1e-4, 0.001, 0.01, 0.1, 1], "offset": -14, "tickSize": 14, "labels": false, "title": null}}}},
        {"transform": [{"filter": "datum.r === 'Ti' && datum.set === 'A'"}], "mark": {"type": "line", "strokeWidth": 3, "clip": true},
         "encoding": {"x": {"field": "E", "type": "quantitative", "scale": {"domain": [30, 55], "nice": false}, "axis": {"orient": "bottom", "values": [30, 35, 40, 45, 50, 55], "offset": -12, "tickSize": 12, "labelPadding": 14, "title": "𝐸* (MeV)", "titlePadding": 11}},
                      "y": {"field": "xs", "type": "quantitative", "scale": {"type": "log", "domain": [1e-5, 5.2], "nice": false}, "axis": {"orient": "left", "values": [1e-5, 1e-4, 0.001, 0.01, 0.1, 1], "offset": -14, "tickSize": 14, "labelPadding": 16, "labelExpr": "'10' + ['⁰','⁻¹','⁻²','⁻³','⁻⁴','⁻⁵'][round(-log(datum.value)/LN10)]", "title": "Cross section (pb)", "titleFontSize": 23, "titlePadding": 3}},
                      "color": {"field": "ch", "type": "nominal", "scale": {"domain": ["3n", "4n", "5n"], "range": ["#ff0000", "#0000ff", "#000000"]}, "legend": {"orient": "none", "legendX": 222, "legendY": 15, "labelExpr": "'Calc. ' + datum.label"}},
                      "strokeDash": {"field": "ch", "type": "nominal", "scale": {"domain": ["3n", "4n", "5n"], "range": [[1, 0], [10, 5], [3.5, 4.5]]}, "legend": {"orient": "none", "legendX": 222, "legendY": 15, "labelExpr": "'Calc. ' + datum.label"}}}},
        {"data": {"values": [{"xs": 0.001, "label": "1 fb"}]}, "mark": {"type": "text", "align": "left", "baseline": "middle", "dx": 8, "fontSize": 18.5, "color": "#000"},
         "encoding": {"x": {"datum": 55, "type": "quantitative", "axis": null}, "y": {"field": "xs", "type": "quantitative", "axis": null}, "text": {"field": "label"}}}
      ],
      "resolve": {"axis": {"x": "independent", "y": "independent"}}
    },
    {
      "width": 340, "height": 272,
      "title": {"text": "⁵¹V + ²⁴⁸Cm ⟶ ²⁹⁹119*"},
      "layer": [
        {"data": {"values": [{"xs": 0.001, "label": "1 fb"}]}, "mark": {"type": "rule", "color": "#808080", "strokeWidth": 1, "strokeDash": [1.5, 1.5]},
         "encoding": {"y": {"field": "xs", "type": "quantitative", "scale": {"type": "log", "domain": [1e-5, 5.2], "nice": false}, "axis": null}}},
        {"transform": [{"filter": "datum.r === 'V' && datum.set === 'B' && datum.ch === '3n'"}], "mark": {"type": "line", "color": "#ff0000", "strokeWidth": 1, "clip": true},
         "encoding": {"x": {"field": "E", "type": "quantitative", "scale": {"domain": [30, 55], "nice": false}, "axis": {"orient": "bottom", "values": [32.5, 37.5, 42.5, 47.5, 52.5], "offset": -6, "tickSize": 6, "labels": false, "title": null}},
                      "y": {"field": "xs", "type": "quantitative", "scale": {"type": "log", "domain": [1e-5, 5.2], "nice": false}, "axis": {"orient": "left", "values": [2e-5,3e-5,4e-5,5e-5,6e-5,7e-5,8e-5,9e-5,2e-4,3e-4,4e-4,5e-4,6e-4,7e-4,8e-4,9e-4,0.002,0.003,0.004,0.005,0.006,0.007,0.008,0.009,0.02,0.03,0.04,0.05,0.06,0.07,0.08,0.09,0.2,0.3,0.4,0.5,0.6,0.7,0.8,0.9,2,3,4,5], "offset": -7, "tickSize": 7, "labels": false, "title": null}}}},
        {"transform": [{"filter": "datum.r === 'V' && datum.set === 'B' && datum.ch === '4n'"}], "mark": {"type": "line", "color": "#0000ff", "strokeWidth": 1, "strokeDash": [4, 2.5], "clip": true},
         "encoding": {"x": {"field": "E", "type": "quantitative", "scale": {"domain": [30, 55], "nice": false}, "axis": {"orient": "top", "values": [32.5, 37.5, 42.5, 47.5, 52.5], "offset": -6, "tickSize": 6, "labels": false, "title": null}},
                      "y": {"field": "xs", "type": "quantitative", "scale": {"type": "log", "domain": [1e-5, 5.2], "nice": false}, "axis": {"orient": "right", "values": [2e-5,3e-5,4e-5,5e-5,6e-5,7e-5,8e-5,9e-5,2e-4,3e-4,4e-4,5e-4,6e-4,7e-4,8e-4,9e-4,0.002,0.003,0.004,0.005,0.006,0.007,0.008,0.009,0.02,0.03,0.04,0.05,0.06,0.07,0.08,0.09,0.2,0.3,0.4,0.5,0.6,0.7,0.8,0.9,2,3,4,5], "offset": -7, "tickSize": 7, "labels": false, "title": null}}}},
        {"transform": [{"filter": "datum.r === 'V' && datum.set === 'B' && datum.ch === '5n'"}], "mark": {"type": "line", "color": "#000000", "strokeWidth": 1, "strokeDash": [1, 2], "clip": true},
         "encoding": {"x": {"field": "E", "type": "quantitative", "scale": {"domain": [30, 55], "nice": false}, "axis": {"orient": "top", "values": [30, 35, 40, 45, 50, 55], "offset": -12, "tickSize": 12, "labels": false, "title": null}},
                      "y": {"field": "xs", "type": "quantitative", "scale": {"type": "log", "domain": [1e-5, 5.2], "nice": false}, "axis": {"orient": "right", "values": [1e-5, 1e-4, 0.001, 0.01, 0.1, 1], "offset": -14, "tickSize": 14, "labels": false, "title": null}}}},
        {"transform": [{"filter": "datum.r === 'V' && datum.set === 'A'"}], "mark": {"type": "line", "strokeWidth": 3, "clip": true},
         "encoding": {"x": {"field": "E", "type": "quantitative", "scale": {"domain": [30, 55], "nice": false}, "axis": {"orient": "bottom", "values": [30, 35, 40, 45, 50, 55], "offset": -12, "tickSize": 12, "labelPadding": 14, "title": "𝐸* (MeV)", "titlePadding": 11}},
                      "y": {"field": "xs", "type": "quantitative", "scale": {"type": "log", "domain": [1e-5, 5.2], "nice": false}, "axis": {"orient": "left", "values": [1e-5, 1e-4, 0.001, 0.01, 0.1, 1], "offset": -14, "tickSize": 14, "labelPadding": 16, "labelExpr": "'10' + ['⁰','⁻¹','⁻²','⁻³','⁻⁴','⁻⁵'][round(-log(datum.value)/LN10)]", "title": "Cross section (pb)", "titleFontSize": 23, "titlePadding": 3}},
                      "color": {"field": "ch", "type": "nominal", "scale": {"domain": ["3n", "4n", "5n"], "range": ["#ff0000", "#0000ff", "#000000"]}, "legend": {"orient": "none", "legendX": 223, "legendY": 21.5, "labelExpr": "'Calc. ' + datum.label"}},
                      "strokeDash": {"field": "ch", "type": "nominal", "scale": {"domain": ["3n", "4n", "5n"], "range": [[1, 0], [10, 5], [3.5, 4.5]]}, "legend": {"orient": "none", "legendX": 223, "legendY": 21.5, "labelExpr": "'Calc. ' + datum.label"}}}},
        {"data": {"values": [{"xs": 0.001, "label": "1 fb"}]}, "mark": {"type": "text", "align": "left", "baseline": "middle", "dx": 8, "fontSize": 18.5, "color": "#000"},
         "encoding": {"x": {"datum": 55, "type": "quantitative", "axis": null}, "y": {"field": "xs", "type": "quantitative", "axis": null}, "text": {"field": "label"}}}
      ],
      "resolve": {"axis": {"x": "independent", "y": "independent"}}
    },
    {
      "width": 340, "height": 272,
      "title": {"text": "⁵⁴Cr + ²⁴³Am ⟶ ²⁹⁷119*"},
      "layer": [
        {"data": {"values": [{"xs": 0.001, "label": "1 fb"}]}, "mark": {"type": "rule", "color": "#808080", "strokeWidth": 1, "strokeDash": [1.5, 1.5]},
         "encoding": {"y": {"field": "xs", "type": "quantitative", "scale": {"type": "log", "domain": [1e-5, 5.2], "nice": false}, "axis": null}}},
        {"transform": [{"filter": "datum.r === 'Cr' && datum.set === 'B' && datum.ch === '3n'"}], "mark": {"type": "line", "color": "#ff0000", "strokeWidth": 1, "clip": true},
         "encoding": {"x": {"field": "E", "type": "quantitative", "scale": {"domain": [30, 55], "nice": false}, "axis": {"orient": "bottom", "values": [32.5, 37.5, 42.5, 47.5, 52.5], "offset": -6, "tickSize": 6, "labels": false, "title": null}},
                      "y": {"field": "xs", "type": "quantitative", "scale": {"type": "log", "domain": [1e-5, 5.2], "nice": false}, "axis": {"orient": "left", "values": [2e-5,3e-5,4e-5,5e-5,6e-5,7e-5,8e-5,9e-5,2e-4,3e-4,4e-4,5e-4,6e-4,7e-4,8e-4,9e-4,0.002,0.003,0.004,0.005,0.006,0.007,0.008,0.009,0.02,0.03,0.04,0.05,0.06,0.07,0.08,0.09,0.2,0.3,0.4,0.5,0.6,0.7,0.8,0.9,2,3,4,5], "offset": -7, "tickSize": 7, "labels": false, "title": null}}}},
        {"transform": [{"filter": "datum.r === 'Cr' && datum.set === 'B' && datum.ch === '4n'"}], "mark": {"type": "line", "color": "#0000ff", "strokeWidth": 1, "strokeDash": [4, 2.5], "clip": true},
         "encoding": {"x": {"field": "E", "type": "quantitative", "scale": {"domain": [30, 55], "nice": false}, "axis": {"orient": "top", "values": [32.5, 37.5, 42.5, 47.5, 52.5], "offset": -6, "tickSize": 6, "labels": false, "title": null}},
                      "y": {"field": "xs", "type": "quantitative", "scale": {"type": "log", "domain": [1e-5, 5.2], "nice": false}, "axis": {"orient": "right", "values": [2e-5,3e-5,4e-5,5e-5,6e-5,7e-5,8e-5,9e-5,2e-4,3e-4,4e-4,5e-4,6e-4,7e-4,8e-4,9e-4,0.002,0.003,0.004,0.005,0.006,0.007,0.008,0.009,0.02,0.03,0.04,0.05,0.06,0.07,0.08,0.09,0.2,0.3,0.4,0.5,0.6,0.7,0.8,0.9,2,3,4,5], "offset": -7, "tickSize": 7, "labels": false, "title": null}}}},
        {"transform": [{"filter": "datum.r === 'Cr' && datum.set === 'B' && datum.ch === '5n'"}], "mark": {"type": "line", "color": "#000000", "strokeWidth": 1, "strokeDash": [1, 2], "clip": true},
         "encoding": {"x": {"field": "E", "type": "quantitative", "scale": {"domain": [30, 55], "nice": false}, "axis": {"orient": "top", "values": [30, 35, 40, 45, 50, 55], "offset": -12, "tickSize": 12, "labels": false, "title": null}},
                      "y": {"field": "xs", "type": "quantitative", "scale": {"type": "log", "domain": [1e-5, 5.2], "nice": false}, "axis": {"orient": "right", "values": [1e-5, 1e-4, 0.001, 0.01, 0.1, 1], "offset": -14, "tickSize": 14, "labels": false, "title": null}}}},
        {"transform": [{"filter": "datum.r === 'Cr' && datum.set === 'A'"}], "mark": {"type": "line", "strokeWidth": 3, "clip": true},
         "encoding": {"x": {"field": "E", "type": "quantitative", "scale": {"domain": [30, 55], "nice": false}, "axis": {"orient": "bottom", "values": [30, 35, 40, 45, 50, 55], "offset": -12, "tickSize": 12, "labelPadding": 14, "title": "𝐸* (MeV)", "titlePadding": 11}},
                      "y": {"field": "xs", "type": "quantitative", "scale": {"type": "log", "domain": [1e-5, 5.2], "nice": false}, "axis": {"orient": "left", "values": [1e-5, 1e-4, 0.001, 0.01, 0.1, 1], "offset": -14, "tickSize": 14, "labelPadding": 16, "labelExpr": "'10' + ['⁰','⁻¹','⁻²','⁻³','⁻⁴','⁻⁵'][round(-log(datum.value)/LN10)]", "title": "Cross section (pb)", "titleFontSize": 23, "titlePadding": 3}},
                      "color": {"field": "ch", "type": "nominal", "scale": {"domain": ["3n", "4n", "5n"], "range": ["#ff0000", "#0000ff", "#000000"]}, "legend": {"orient": "none", "legendX": 224, "legendY": 21, "labelExpr": "'Calc. ' + datum.label"}},
                      "strokeDash": {"field": "ch", "type": "nominal", "scale": {"domain": ["3n", "4n", "5n"], "range": [[1, 0], [10, 5], [3.5, 4.5]]}, "legend": {"orient": "none", "legendX": 224, "legendY": 21, "labelExpr": "'Calc. ' + datum.label"}}}},
        {"data": {"values": [{"xs": 0.001, "label": "1 fb"}]}, "mark": {"type": "text", "align": "left", "baseline": "middle", "dx": 8, "fontSize": 18.5, "color": "#000"},
         "encoding": {"x": {"datum": 55, "type": "quantitative", "axis": null}, "y": {"field": "xs", "type": "quantitative", "axis": null}, "text": {"field": "label"}}}
      ],
      "resolve": {"axis": {"x": "independent", "y": "independent"}}
    }
  ],
  "resolve": {"legend": {"color": "independent", "strokeDash": "independent"}, "scale": {"color": "independent", "strokeDash": "independent"}},
  "config": {
    "font": "Liberation Serif, DejaVu Serif",
    "background": "#ffffff",
    "view": {"stroke": "#000000", "strokeWidth": 2},
    "axis": {"domain": false, "grid": false, "ticks": true, "tickColor": "#000000", "tickWidth": 1.3, "tickOpacity": 1, "tickRound": false,
             "labelFont": "Liberation Serif, DejaVu Serif", "labelFontSize": 20, "labelColor": "#000000", "labelFlush": false, "labelOverlap": false,
             "titleFont": "Liberation Serif, DejaVu Serif", "titleFontSize": 22, "titleFontWeight": "normal", "titleColor": "#000000"},
    "legend": {"title": null, "labelFont": "Liberation Serif, DejaVu Serif", "labelFontSize": 17, "labelColor": "#000000",
               "symbolType": "M-4,0H4", "symbolSize": 100, "symbolStrokeWidth": 3, "labelOffset": 14, "rowPadding": 3.5, "padding": 0},
    "text": {"font": "Liberation Serif, DejaVu Serif"},
    "title": {"anchor": "start", "frame": "group", "font": "Liberation Serif, DejaVu Serif", "fontSize": 24, "fontWeight": "normal", "color": "#000000", "offset": 3}
  }
}
